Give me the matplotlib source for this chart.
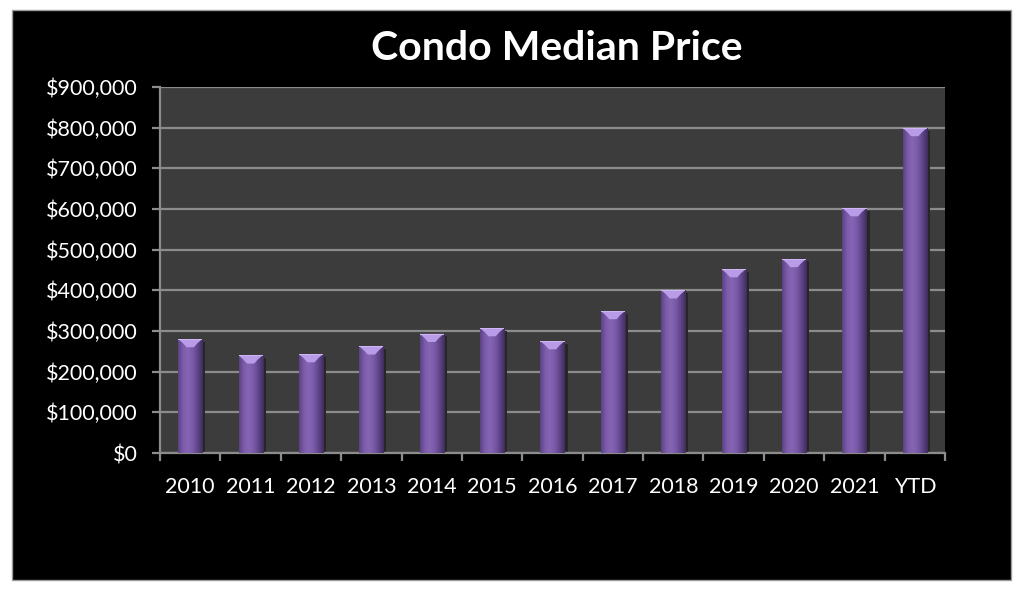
import numpy as np
import matplotlib.pyplot as plt
import matplotlib.patches as mpatches
from matplotlib.colors import LinearSegmentedColormap

#%% Data
years = ["2010", "2011", "2012", "2013", "2014", "2015", "2016",
         "2017", "2018", "2019", "2020", "2021", "YTD"]
prices = [280000, 240000, 243000, 262000, 293000, 307000, 275000,
          349000, 400000, 452000, 477000, 602000, 799000]
yticks = np.arange(0, 900001, 100000)

#%% Figure
fig = plt.figure(figsize=(10.24, 6.05), dpi=100, facecolor="white")
fig.patches.append(mpatches.Rectangle((12/1024, 25/605), 999/1024, 570/605,
                                      transform=fig.transFigure, facecolor="black",
                                      edgecolor="#9a9a9a", linewidth=1, zorder=-10))

ax = fig.add_axes([160/1024, 152/605, 785/1024, 366/605])
ax.set_facecolor("#3c3c3c")

x = np.arange(len(years))
w = 0.40

cmap = LinearSegmentedColormap.from_list("bar", ["#5b4384", "#7d5cab", "#8566b4",
                                                 "#7a59a8", "#5e4488", "#3f2d5c"])
grad = np.linspace(0, 1, 64).reshape(1, -1)
cap_h = 20000

for xi, v in zip(x, prices):
    # shadow on the right
    ax.add_patch(mpatches.Rectangle((xi - w/2 + 0.05, 0), w, v - 6000,
                                    facecolor="#262626", edgecolor="none", zorder=2))
    rect = mpatches.Rectangle((xi - w/2, 0), w, v, facecolor="none",
                              edgecolor="none", zorder=3)
    ax.add_patch(rect)
    im = ax.imshow(grad, cmap=cmap, aspect="auto", zorder=3,
                   extent=(xi - w/2, xi + w/2, 0, v))
    im.set_clip_path(rect)
    cap = mpatches.Polygon([(xi - w/2, v), (xi + w/2, v),
                            (xi + w/2 - 0.08, v - cap_h * 0.5),
                            (xi + 0.06, v - cap_h), (xi - 0.06, v - cap_h),
                            (xi - w/2 + 0.08, v - cap_h * 0.5)],
                           closed=True, facecolor="#b89ce8", edgecolor="none",
                           zorder=4)
    ax.add_patch(cap)
    ax.add_patch(mpatches.Rectangle((xi - w/2, v - 2500), w, 2500,
                                    facecolor="#cdb6f2", edgecolor="none", zorder=4))

ax.set_aspect("auto")
ax.set_xlim(-0.5, len(years) - 0.5)
ax.set_ylim(0, 900000)

ax.set_yticks(yticks)
ax.set_yticklabels(["${:,.0f}".format(t) for t in yticks])
ax.yaxis.grid(True, color="#8c8c8c", linewidth=1.6)
ax.set_axisbelow(True)

ax.set_xticks(x)
ax.set_xticklabels(years)
ax.set_xticks(np.arange(-0.5, len(years), 1), minor=True)

for s in ["top", "right"]:
    ax.spines[s].set_visible(False)
for s in ["left", "bottom"]:
    ax.spines[s].set_color("#8c8c8c")
    ax.spines[s].set_linewidth(1.6)

ax.tick_params(axis="y", colors="#8c8c8c", labelcolor="white", labelsize=15.5,
               length=6, width=1.6, pad=10)
ax.tick_params(axis="x", which="major", length=0, labelcolor="white",
               labelsize=15.5, pad=17)
ax.tick_params(axis="x", which="minor", length=6, width=1.6, colors="#8c8c8c")
for lab in ax.get_xticklabels() + ax.get_yticklabels():
    lab.set_fontfamily("Lato")

fig.text(557/1024, 1 - 48/605, "Condo Median Price", color="white",
         fontsize=29.5, fontweight="bold", family="Lato", ha="center", va="center")

plt.savefig("out.png", dpi=100, facecolor="white")
